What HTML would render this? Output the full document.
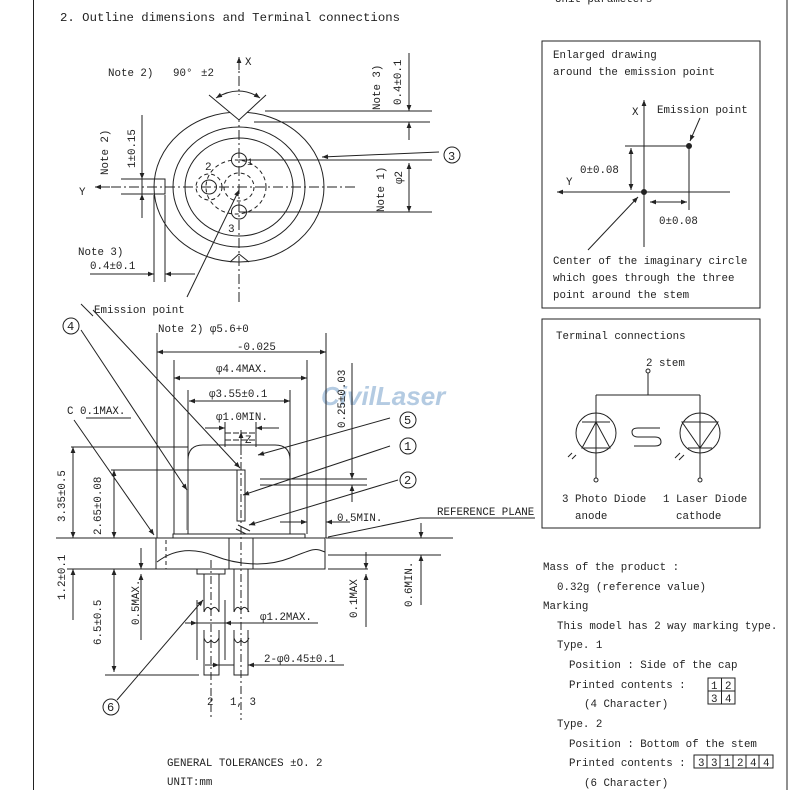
<!DOCTYPE html>
<html><head><meta charset="utf-8"><style>
html,body{margin:0;padding:0;background:#fff}
svg{display:block}
text{font-family:"Liberation Mono","DejaVu Sans Mono",monospace;font-size:10.8px;fill:#222}
.t{font-size:12.3px}
</style></head><body>
<svg width="790" height="790" viewBox="0 0 790 790" xmlns="http://www.w3.org/2000/svg">
<defs>
<marker id="a" viewBox="0 0 10 10" refX="10" refY="5" markerWidth="8" markerHeight="6" orient="auto-start-reverse"><path d="M0,1 L10,5 L0,9 z" fill="#222"/></marker>
</defs>
<text x="321" y="405" style="font-family:'Liberation Sans',sans-serif;font-size:26px;font-weight:bold;font-style:italic;fill:#b4cbe2">CivilLaser</text>
<g stroke="#222" stroke-width="1" fill="none">
<line x1="33.5" y1="0" x2="33.5" y2="790"/>
<line x1="787" y1="0" x2="787" y2="790"/>

<!-- TOP VIEW -->
<ellipse cx="239" cy="187" rx="85" ry="75"/>
<ellipse cx="239" cy="187" rx="66" ry="60"/>
<ellipse cx="239" cy="187" rx="54" ry="49"/>
<ellipse cx="239" cy="160" rx="7.5" ry="7"/>
<ellipse cx="239" cy="212" rx="7.5" ry="7"/>
<ellipse cx="209" cy="187" rx="7.5" ry="7"/>
<g stroke-dasharray="4,3">
<ellipse cx="209" cy="187" rx="13" ry="13"/>
<ellipse cx="239" cy="187" rx="15" ry="14"/>
<ellipse cx="236" cy="187" rx="30" ry="27"/>
</g>
<line x1="239" y1="58" x2="239" y2="305" stroke-dasharray="10,3,2,3"/>
<line x1="239" y1="70" x2="239" y2="57" marker-end="url(#a)"/>
<line x1="355" y1="187" x2="96" y2="187" stroke-dasharray="10,3,2,3"/>
<line x1="110" y1="187" x2="95" y2="187" marker-end="url(#a)"/>
<polyline points="209,95 239,120 266,95" fill="#fff"/>
<path d="M216,98 Q239,84 260,98" marker-start="url(#a)" marker-end="url(#a)"/>
<polyline points="230,262 239,254 249,262"/>
<rect x="142" y="179" width="23" height="15"/>
<line x1="121" y1="179" x2="142" y2="179"/><line x1="121" y1="194" x2="142" y2="194"/>
<line x1="142" y1="115" x2="142" y2="179" marker-end="url(#a)"/>
<line x1="142" y1="218" x2="142" y2="194" marker-end="url(#a)"/>
<line x1="154" y1="195" x2="154" y2="282"/><line x1="165" y1="195" x2="165" y2="282"/>
<line x1="90" y1="274" x2="154" y2="274" marker-end="url(#a)"/>
<line x1="195" y1="274" x2="165" y2="274" marker-end="url(#a)"/>
<line x1="265" y1="111" x2="432" y2="111"/><line x1="254" y1="122" x2="430" y2="122"/>
<line x1="239" y1="160" x2="432" y2="160"/><line x1="239" y1="212" x2="432" y2="212"/>
<line x1="409" y1="53" x2="409" y2="111" marker-end="url(#a)"/>
<line x1="409" y1="140" x2="409" y2="122" marker-end="url(#a)"/>
<line x1="409" y1="186" x2="409" y2="163" marker-end="url(#a)"/>
<line x1="409" y1="186" x2="409" y2="212" marker-end="url(#a)"/>
<circle cx="452" cy="155" r="8"/>
<line x1="439" y1="152" x2="322" y2="157" marker-end="url(#a)"/>
<line x1="187" y1="297" x2="239" y2="190" marker-end="url(#a)"/>
<line x1="81" y1="304" x2="93" y2="316"/>

<!-- SIDE VIEW -->
<line x1="157" y1="333" x2="157" y2="538"/><line x1="326" y1="333" x2="326" y2="538"/>
<line x1="174" y1="360" x2="174" y2="534"/><line x1="307" y1="360" x2="307" y2="534"/>
<line x1="188" y1="390" x2="188" y2="460"/><line x1="290" y1="390" x2="290" y2="460"/>
<path d="M188,534 V460 Q188,445 203,445 H275 Q290,445 290,460 V534"/>
<line x1="187" y1="490" x2="187" y2="530" stroke="#999" stroke-width="1.5"/>
<rect x="173" y="534" width="132" height="4"/>
<rect x="156" y="538" width="169" height="31"/>
<line x1="229" y1="538" x2="229" y2="569"/><line x1="253" y1="538" x2="253" y2="569"/>
<line x1="166" y1="540" x2="166" y2="569" stroke-dasharray="4,3"/>
<path d="M157,562 C175,548 195,548 215,556 S265,568 290,558 S315,548 325,552"/>
<rect x="237" y="470" width="8" height="51"/>
<line x1="241" y1="430" x2="241" y2="720" stroke-dasharray="8,3,2,3"/>
<line x1="211" y1="560" x2="211" y2="720" stroke-dasharray="8,3,2,3"/>
<line x1="238" y1="525" x2="250" y2="531"/><line x1="236" y1="529" x2="246" y2="534"/>
<line x1="225" y1="433" x2="256" y2="433" stroke-dasharray="6,2"/>
<line x1="225" y1="440" x2="256" y2="440" stroke-dasharray="6,2"/>
<rect x="197" y="569" width="28" height="5"/>
<path d="M204,574 V612 M219,574 V612 M234,569 V612 M248,569 V612"/>
<path d="M204,612 q3,-8 7,-2 q4,-6 8,2 M234,612 q3,-8 7,-2 q4,-6 8,2"/>
<path d="M204,638 q3,8 7,2 q4,6 8,-2 M234,638 q3,8 7,2 q4,6 8,-2"/>
<path d="M204,630 V675 H219 V630 M234,630 V675 H248 V630"/>
<!-- dims -->
<line x1="71" y1="447" x2="188" y2="447"/><line x1="111" y1="470" x2="237" y2="470"/>
<line x1="56" y1="538" x2="157" y2="538"/><line x1="326" y1="538" x2="453" y2="538"/>
<line x1="67" y1="569" x2="157" y2="569"/><line x1="328" y1="569" x2="368" y2="569"/>
<line x1="328" y1="555" x2="441" y2="555"/>
<line x1="73" y1="492" x2="73" y2="447" marker-end="url(#a)"/>
<line x1="73" y1="492" x2="73" y2="538" marker-end="url(#a)"/>
<line x1="73" y1="620" x2="73" y2="569" marker-end="url(#a)"/>
<line x1="114" y1="505" x2="114" y2="470" marker-end="url(#a)"/>
<line x1="114" y1="505" x2="114" y2="538" marker-end="url(#a)"/>
<line x1="114" y1="620" x2="114" y2="569" marker-end="url(#a)"/>
<line x1="114" y1="620" x2="114" y2="672" marker-end="url(#a)"/>
<line x1="141" y1="548" x2="141" y2="569" marker-end="url(#a)"/>
<line x1="141" y1="640" x2="141" y2="574" marker-end="url(#a)"/>
<line x1="105" y1="675" x2="199" y2="675"/>
<line x1="241" y1="352" x2="157" y2="352" marker-end="url(#a)"/>
<line x1="241" y1="352" x2="326" y2="352" marker-end="url(#a)"/>
<line x1="240" y1="378" x2="174" y2="378" marker-end="url(#a)"/>
<line x1="240" y1="378" x2="307" y2="378" marker-end="url(#a)"/>
<line x1="240" y1="401" x2="189" y2="401" marker-end="url(#a)"/>
<line x1="240" y1="401" x2="290" y2="401" marker-end="url(#a)"/>
<line x1="225" y1="422" x2="225" y2="447"/><line x1="256" y1="422" x2="256" y2="447"/>
<line x1="205" y1="428" x2="225" y2="428" marker-end="url(#a)"/>
<line x1="279" y1="428" x2="256" y2="428" marker-end="url(#a)"/>
<line x1="241" y1="455" x2="241" y2="432" marker-end="url(#a)"/>
<line x1="260" y1="479" x2="367" y2="479"/><line x1="260" y1="485" x2="367" y2="485"/>
<line x1="352" y1="363" x2="352" y2="479" marker-end="url(#a)"/>
<line x1="352" y1="502" x2="352" y2="485" marker-end="url(#a)"/>
<line x1="280" y1="522" x2="307" y2="522" marker-end="url(#a)"/>
<line x1="350" y1="522" x2="326" y2="522" marker-end="url(#a)"/>
<polyline points="535,518 420,518 328,537"/>
<line x1="421" y1="523" x2="421" y2="538" marker-end="url(#a)"/>
<line x1="421" y1="605" x2="421" y2="555" marker-end="url(#a)"/>
<line x1="366" y1="552" x2="366" y2="569" marker-end="url(#a)"/>
<line x1="366" y1="627" x2="366" y2="574" marker-end="url(#a)"/>
<line x1="86" y1="418" x2="131" y2="418"/>
<line x1="74" y1="420" x2="154" y2="535" marker-end="url(#a)"/>
<circle cx="71" cy="326" r="8"/>
<line x1="81" y1="330" x2="187" y2="490" marker-end="url(#a)"/>
<line x1="93" y1="310" x2="240" y2="468" marker-end="url(#a)"/>
<circle cx="408" cy="420" r="8"/><line x1="390" y1="418" x2="258" y2="455" marker-end="url(#a)"/>
<circle cx="408" cy="446" r="8"/><line x1="390" y1="446" x2="243" y2="495" marker-end="url(#a)"/>
<circle cx="408" cy="480" r="8"/><line x1="398" y1="480" x2="249" y2="525" marker-end="url(#a)"/>
<line x1="197" y1="623" x2="318" y2="623"/>
<line x1="197" y1="600" x2="197" y2="660"/><line x1="225" y1="600" x2="225" y2="660"/>
<line x1="185" y1="623" x2="197" y2="623" marker-end="url(#a)"/>
<line x1="237" y1="623" x2="225" y2="623" marker-end="url(#a)"/>
<line x1="219" y1="665" x2="234" y2="665"/>
<line x1="205" y1="665" x2="219" y2="665" marker-end="url(#a)"/>
<line x1="344" y1="665" x2="248" y2="665" marker-end="url(#a)"/>
<circle cx="111" cy="707" r="8"/><line x1="117" y1="700" x2="203" y2="600" marker-end="url(#a)"/>

<!-- RIGHT BOXES -->
<rect x="542" y="41" width="218" height="267"/>
<rect x="542" y="319" width="218" height="209"/>
<line x1="644" y1="247" x2="644" y2="100" marker-end="url(#a)"/>
<line x1="730" y1="192" x2="557" y2="192" marker-end="url(#a)"/>
<circle cx="644" cy="192" r="2.5" fill="#222"/>
<circle cx="689" cy="146" r="2.5" fill="#222"/>
<line x1="625" y1="146" x2="689" y2="146"/><line x1="689" y1="146" x2="689" y2="210"/>
<line x1="631" y1="169" x2="631" y2="148" marker-end="url(#a)"/>
<line x1="631" y1="169" x2="631" y2="190" marker-end="url(#a)"/>
<line x1="650" y1="202" x2="687" y2="202" marker-start="url(#a)" marker-end="url(#a)"/>
<line x1="588" y1="250" x2="638" y2="197" marker-end="url(#a)"/>
<line x1="700" y1="118" x2="690" y2="141" marker-end="url(#a)"/>
<!-- terminal -->
<circle cx="648" cy="371" r="2"/>
<line x1="648" y1="373" x2="648" y2="395"/>
<line x1="596" y1="395" x2="700" y2="395"/>
<line x1="596" y1="395" x2="596" y2="478"/><line x1="700" y1="395" x2="700" y2="478"/>
<circle cx="596" cy="480" r="2"/><circle cx="700" cy="480" r="2"/>
<circle cx="596" cy="433" r="20"/><circle cx="700" cy="433" r="20"/>
<path d="M582,422 H610 M596,422 L582,448 H610 Z"/>
<path d="M682,422 H718 L700,448 Z M688,448 H712"/>
<path d="M660,428 H638 Q632,428 632,432 Q632,437 638,437 H655 Q661,437 661,442 Q661,446 655,446 H634"/>
<path d="M568,457 l4,-4 M572,459 l4,-4" />
<path d="M680,453 l-5,5 M684,455 l-5,5"/>
<!-- marking boxes -->
<rect x="708" y="678" width="27" height="26"/>
<line x1="721.5" y1="678" x2="721.5" y2="704"/><line x1="708" y1="691" x2="735" y2="691"/>
<rect x="694" y="755" width="79" height="13"/>
<path d="M707,755 V768 M720,755 V768 M733,755 V768 M746,755 V768 M759,755 V768"/>
</g>

<!-- TEXT -->
<text class="t" x="60" y="21" textLength="340">2. Outline dimensions and Terminal connections</text>
<text x="555" y="2">Unit parameters</text>
<text x="108" y="76">Note 2)</text><text x="173" y="76">90°</text><text x="201" y="76">±2</text>
<text x="245" y="65">X</text><text x="79" y="195">Y</text>
<text x="205" y="170" style="font-size:11px">2</text><text x="247" y="165" style="font-size:10px">1</text><text x="228" y="232" style="font-size:11px">3</text>
<text transform="translate(380,110) rotate(-90)">Note 3)</text>
<text transform="translate(401,105) rotate(-90)">0.4±0.1</text>
<text transform="translate(108,175) rotate(-90)">Note 2)</text>
<text transform="translate(135,168) rotate(-90)">1±0.15</text>
<text transform="translate(384,212) rotate(-90)">Note 1)</text>
<text transform="translate(402,184) rotate(-90)">φ2</text>
<text x="448" y="160" style="font-size:12px">3</text>
<text x="78" y="255">Note 3)</text><text x="90" y="269">0.4±0.1</text>
<text x="94" y="313">Emission point</text>
<text x="158" y="332">Note 2) φ5.6+0</text>
<text x="237" y="350">-0.025</text>
<text x="216" y="372">φ4.4MAX.</text>
<text x="209" y="397">φ3.55±0.1</text>
<text x="216" y="420">φ1.0MIN.</text>
<text x="245" y="443">Z</text>
<text x="67" y="414">C  0.1MAX.</text>
<text x="67" y="330" style="font-size:12px">4</text>
<text x="404" y="424" style="font-size:12px">5</text>
<text x="404" y="450" style="font-size:12px">1</text>
<text x="404" y="484" style="font-size:12px">2</text>
<text x="107" y="711" style="font-size:12px">6</text>
<text transform="translate(345,428) rotate(-90)">0.25±0.03</text>
<text x="337" y="521">0.5MIN.</text>
<text x="437" y="515">REFERENCE PLANE</text>
<text transform="translate(65,522) rotate(-90)">3.35±0.5</text>
<text transform="translate(101,535) rotate(-90)">2.65±0.08</text>
<text transform="translate(65,600) rotate(-90)">1.2±0.1</text>
<text transform="translate(101,645) rotate(-90)">6.5±0.5</text>
<text transform="translate(139,625) rotate(-90)">0.5MAX.</text>
<text transform="translate(357,618) rotate(-90)">0.1MAX</text>
<text transform="translate(412,607) rotate(-90)">0.6MIN.</text>
<text x="260" y="620">φ1.2MAX.</text>
<text x="264" y="662">2-φ0.45±0.1</text>
<text x="207" y="705">2</text><text x="230" y="705">1, 3</text>
<text x="167" y="766">GENERAL TOLERANCES ±O. 2</text>
<text x="167" y="785">UNIT:mm</text>

<text x="553" y="58">Enlarged drawing</text>
<text x="553" y="75">around the emission point</text>
<text x="632" y="115">X</text><text x="657" y="113">Emission point</text>
<text x="566" y="185">Y</text>
<text x="580" y="173">0±0.08</text>
<text x="659" y="224">0±0.08</text>
<text x="553" y="264">Center of the imaginary circle</text>
<text x="553" y="281">which goes through the three</text>
<text x="553" y="298">point around the stem</text>
<text x="556" y="339">Terminal  connections</text>
<text x="646" y="366">2 stem</text>
<text x="562" y="502">3 Photo Diode</text><text x="575" y="519">anode</text>
<text x="663" y="502">1 Laser Diode</text><text x="676" y="519">cathode</text>
<text x="543" y="570">Mass of the product :</text>
<text x="557" y="590">0.32g (reference value)</text>
<text x="543" y="609">Marking</text>
<text x="557" y="629">This model has 2 way marking type.</text>
<text x="557" y="648">Type. 1</text>
<text x="569" y="668">Position : Side of the cap</text>
<text x="569" y="688">Printed contents :</text>
<text x="584" y="707">(4 Character)</text>
<text x="711" y="689">1</text><text x="725" y="689">2</text>
<text x="711" y="702">3</text><text x="725" y="702">4</text>
<text x="557" y="727">Type. 2</text>
<text x="569" y="747">Position : Bottom of the stem</text>
<text x="569" y="766">Printed contents :</text>
<text x="698" y="766">3</text><text x="711" y="766">3</text><text x="724" y="766">1</text><text x="737" y="766">2</text><text x="750" y="766">4</text><text x="763" y="766">4</text>
<text x="584" y="786">(6 Character)</text>
</svg>
</body></html>
